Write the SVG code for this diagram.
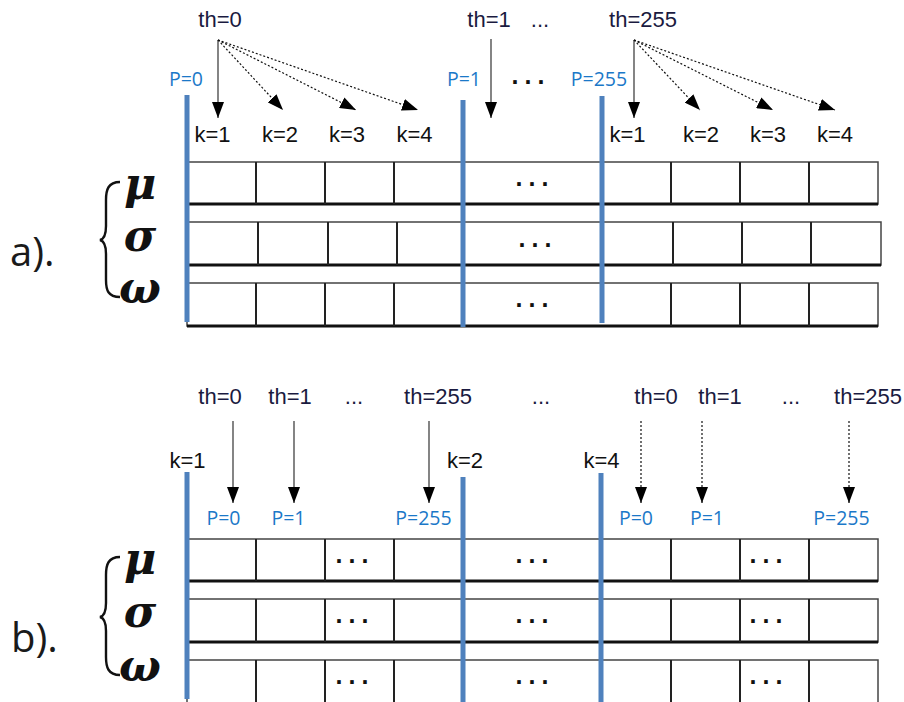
<svg xmlns="http://www.w3.org/2000/svg" width="904" height="702" viewBox="0 0 904 702">
<style>
.th{font-family:"Liberation Sans",Arial,sans-serif;font-size:22px;fill:#1a1a40;text-anchor:middle}
.k{font-family:"Liberation Sans",Arial,sans-serif;font-size:22px;fill:#111;text-anchor:middle}
.p{font-family:"Open Sans","Liberation Sans",sans-serif;font-size:19.5px;fill:#1b78c8;text-anchor:middle}
.lab{font-family:"Open Sans","Liberation Sans",sans-serif;font-size:40px;fill:#1a1a1a}
.gr{font-family:"DejaVu Serif",serif;font-size:44px;font-weight:bold;font-style:italic;fill:#111;text-anchor:middle}
.dots{font-family:"Liberation Sans",Arial,sans-serif;font-size:25px;font-weight:bold;fill:#111;letter-spacing:6px}
.row{fill:#fff;stroke:#444;stroke-width:1.5}
.bot{stroke:#111;stroke-width:3}
.div{stroke:#222;stroke-width:2}
.bar{stroke:#4f81bd;stroke-width:5}
.sol{stroke:#333;stroke-width:1.2;fill:none}
.dot{stroke:#111;stroke-width:1.2;stroke-dasharray:2 2;fill:none}
.brace{fill:none;stroke:#111;stroke-width:2.4}
</style>
<defs>
<marker id="ah" markerUnits="userSpaceOnUse" markerWidth="16" markerHeight="12" refX="16" refY="6" orient="auto">
<path d="M0,0 L16,6 L0,12 z" fill="#000"/>
</marker>
</defs>

<g id="part-a">
<text class="lab" x="10" y="266">a).</text>
<path class="brace" d="M120,182 C108,182 106,190 106,200 L106,226 C106,234 104,239 100,240 C104,241 106,246 106,254 L106,280 C106,290 108,297 120,297"/>
<text class="gr" x="140" y="199">μ</text>
<text class="gr" x="140" y="251">σ</text>
<text class="gr" x="140" y="303">ω</text>

<g id="a-row1">
<rect class="row" x="187" y="162" width="691" height="42"/>
<line class="bot" x1="187" y1="204" x2="878" y2="204"/>
<line class="div" x1="256" y1="162" x2="256" y2="204"/>
<line class="div" x1="325" y1="162" x2="325" y2="204"/>
<line class="div" x1="394" y1="162" x2="394" y2="204"/>
<line class="div" x1="671" y1="162" x2="671" y2="204"/>
<line class="div" x1="740" y1="162" x2="740" y2="204"/>
<line class="div" x1="809" y1="162" x2="809" y2="204"/>
<text class="dots" x="515.5" y="185.7">...</text>
</g>
<g id="a-row2">
<rect class="row" x="187" y="222" width="694" height="43"/>
<line class="bot" x1="187" y1="265" x2="881" y2="265"/>
<line class="div" x1="258" y1="222" x2="258" y2="265"/>
<line class="div" x1="328" y1="222" x2="328" y2="265"/>
<line class="div" x1="397" y1="222" x2="397" y2="265"/>
<line class="div" x1="673" y1="222" x2="673" y2="265"/>
<line class="div" x1="742" y1="222" x2="742" y2="265"/>
<line class="div" x1="811" y1="222" x2="811" y2="265"/>
<text class="dots" x="518.5" y="246.7">...</text>
</g>
<g id="a-row3">
<rect class="row" x="187" y="283" width="691" height="43"/>
<line class="bot" x1="187" y1="326" x2="878" y2="326"/>
<line class="div" x1="256" y1="283" x2="256" y2="326"/>
<line class="div" x1="325" y1="283" x2="325" y2="326"/>
<line class="div" x1="394" y1="283" x2="394" y2="326"/>
<line class="div" x1="671" y1="283" x2="671" y2="326"/>
<line class="div" x1="740" y1="283" x2="740" y2="326"/>
<line class="div" x1="809" y1="283" x2="809" y2="326"/>
<text class="dots" x="515.5" y="307.4">...</text>
</g>

<g id="a-bars">
<line class="bar" x1="187" y1="95" x2="187" y2="322"/>
<line class="bar" x1="463" y1="100" x2="463" y2="327"/>
<line class="bar" x1="602" y1="96" x2="602" y2="323"/>
</g>

<g id="a-labels">
<text class="th" x="220" y="27">th=0</text>
<text class="th" x="489" y="27">th=1</text>
<text class="th" x="540" y="27">...</text>
<text class="th" x="643" y="27">th=255</text>
<text class="p" x="186" y="86">P=0</text>
<text class="p" x="464" y="86">P=1</text>
<text class="dots" x="511.5" y="83.7">...</text>
<text class="p" x="599" y="86">P=255</text>
<text class="k" x="212.5" y="142">k=1</text>
<text class="k" x="280" y="142">k=2</text>
<text class="k" x="347" y="142">k=3</text>
<text class="k" x="414.5" y="142">k=4</text>
<text class="k" x="627.5" y="142">k=1</text>
<text class="k" x="701" y="142">k=2</text>
<text class="k" x="768" y="142">k=3</text>
<text class="k" x="835" y="142">k=4</text>
</g>
</g>

<g id="part-b">
<text class="lab" x="11" y="652">b).</text>
<path class="brace" d="M120,557 C108,557 106,565 106,575 L106,603 C106,611 104,616 100,617 C104,618 106,623 106,631 L106,657 C106,667 108,675 120,675"/>
<text class="gr" x="140" y="574">μ</text>
<text class="gr" x="140" y="627">σ</text>
<text class="gr" x="140" y="681">ω</text>

<g id="b-row1">
<rect class="row" x="187" y="539" width="691" height="42"/>
<line class="bot" x1="187" y1="581" x2="878" y2="581"/>
<line class="div" x1="256" y1="539" x2="256" y2="581"/>
<line class="div" x1="325" y1="539" x2="325" y2="581"/>
<line class="div" x1="394" y1="539" x2="394" y2="581"/>
<line class="div" x1="671" y1="539" x2="671" y2="581"/>
<line class="div" x1="740" y1="539" x2="740" y2="581"/>
<line class="div" x1="809" y1="539" x2="809" y2="581"/>
<text class="dots" x="335.5" y="563.4">...</text>
<text class="dots" x="515.5" y="563.4">...</text>
<text class="dots" x="749.5" y="563.4">...</text>
</g>
<g id="b-row2">
<rect class="row" x="187" y="599" width="691" height="43"/>
<line class="bot" x1="187" y1="642" x2="878" y2="642"/>
<line class="div" x1="256" y1="599" x2="256" y2="642"/>
<line class="div" x1="325" y1="599" x2="325" y2="642"/>
<line class="div" x1="394" y1="599" x2="394" y2="642"/>
<line class="div" x1="671" y1="599" x2="671" y2="642"/>
<line class="div" x1="740" y1="599" x2="740" y2="642"/>
<line class="div" x1="809" y1="599" x2="809" y2="642"/>
<text class="dots" x="335.5" y="623.4">...</text>
<text class="dots" x="515.5" y="623.4">...</text>
<text class="dots" x="749.5" y="623.4">...</text>
</g>
<g id="b-row3">
<rect class="row" x="187" y="660" width="691" height="43"/>
<line class="div" x1="256" y1="660" x2="256" y2="702"/>
<line class="div" x1="325" y1="660" x2="325" y2="702"/>
<line class="div" x1="394" y1="660" x2="394" y2="702"/>
<line class="div" x1="671" y1="660" x2="671" y2="702"/>
<line class="div" x1="740" y1="660" x2="740" y2="702"/>
<line class="div" x1="809" y1="660" x2="809" y2="702"/>
<text class="dots" x="335.5" y="684.4">...</text>
<text class="dots" x="515.5" y="684.4">...</text>
<text class="dots" x="749.5" y="684.4">...</text>
</g>

<g id="b-bars">
<line class="bar" x1="187" y1="472" x2="187" y2="699"/>
<line class="bar" x1="463" y1="477" x2="463" y2="702"/>
<line class="bar" x1="601" y1="473" x2="601" y2="702"/>
</g>

<g id="b-labels">
<text class="th" x="220" y="404">th=0</text>
<text class="th" x="290" y="404">th=1</text>
<text class="th" x="354" y="404">...</text>
<text class="th" x="438" y="404">th=255</text>
<text class="th" x="541" y="404">...</text>
<text class="th" x="656" y="404">th=0</text>
<text class="th" x="720" y="404">th=1</text>
<text class="th" x="791" y="404">...</text>
<text class="th" x="868" y="404">th=255</text>
<text class="k" x="187.5" y="468">k=1</text>
<text class="k" x="465" y="468">k=2</text>
<text class="k" x="601.5" y="468">k=4</text>
<text class="p" x="223.5" y="525">P=0</text>
<text class="p" x="288.5" y="525">P=1</text>
<text class="p" x="423.5" y="525">P=255</text>
<text class="p" x="636" y="525">P=0</text>
<text class="p" x="707" y="525">P=1</text>
<text class="p" x="841.5" y="525">P=255</text>
</g>
</g>

<g id="connectors">
<line class="sol" x1="218" y1="40" x2="218" y2="118" marker-end="url(#ah)"/>
<line class="dot" x1="218" y1="40" x2="283" y2="110" marker-end="url(#ah)"/>
<line class="dot" x1="218" y1="40" x2="356" y2="110" marker-end="url(#ah)"/>
<line class="dot" x1="218" y1="40" x2="418" y2="110" marker-end="url(#ah)"/>
<line class="sol" x1="491" y1="39" x2="491" y2="118" marker-end="url(#ah)"/>
<line class="sol" x1="634" y1="40" x2="634" y2="118" marker-end="url(#ah)"/>
<line class="dot" x1="634" y1="40" x2="700" y2="110" marker-end="url(#ah)"/>
<line class="dot" x1="634" y1="40" x2="773" y2="110" marker-end="url(#ah)"/>
<line class="dot" x1="634" y1="40" x2="835" y2="110" marker-end="url(#ah)"/>
<line class="sol" x1="233" y1="421" x2="233" y2="503" marker-end="url(#ah)"/>
<line class="sol" x1="294" y1="421" x2="294" y2="503" marker-end="url(#ah)"/>
<line class="sol" x1="429" y1="421" x2="429" y2="503" marker-end="url(#ah)"/>
<line class="dot" x1="641" y1="421" x2="641" y2="503" marker-end="url(#ah)"/>
<line class="dot" x1="702" y1="421" x2="702" y2="503" marker-end="url(#ah)"/>
<line class="dot" x1="849" y1="421" x2="849" y2="503" marker-end="url(#ah)"/>
</g>
</svg>
